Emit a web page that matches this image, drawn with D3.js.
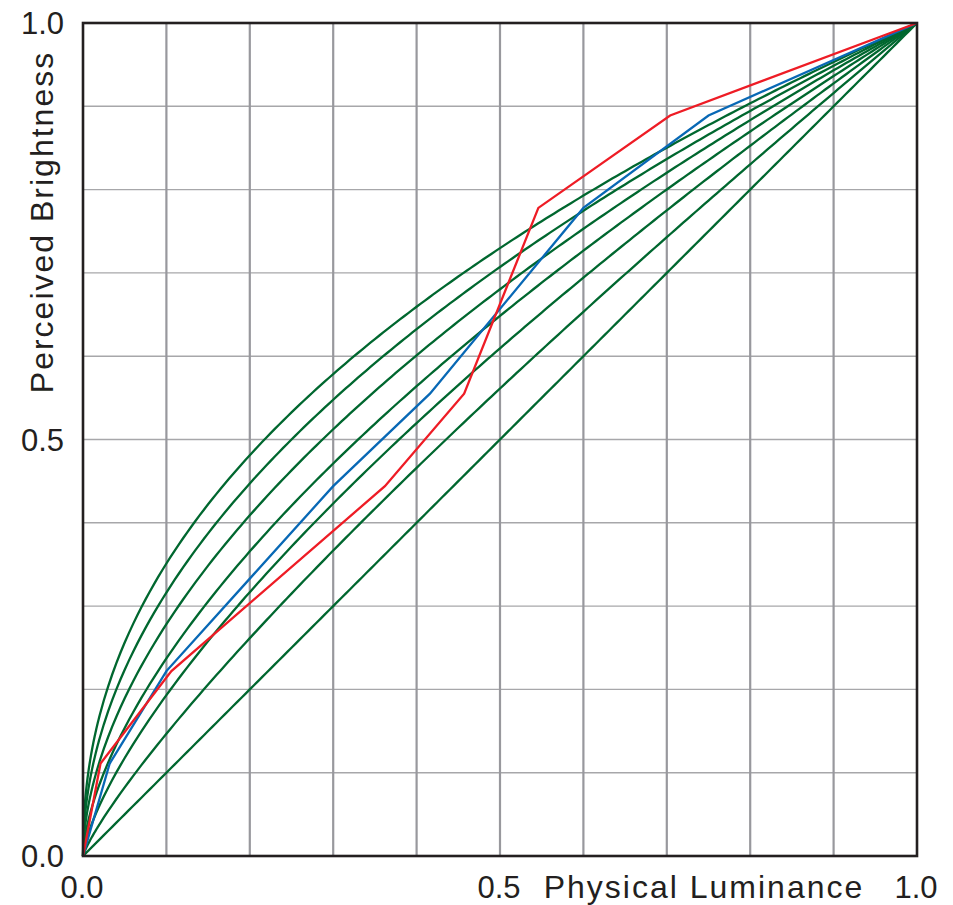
<!DOCTYPE html>
<html>
<head>
<meta charset="utf-8">
<script src="https://cdn.jsdelivr.net/npm/d3@7"></script>
<style>
    body { margin: 0; background: #fff; }
    text { font-family: "Liberation Sans", Arial, Helvetica, sans-serif; fill: #231f20; }
</style>
</head>
<body>
<div id="chart"></div>
<script>
// gamma values of the green reference curves (y = x^(1/gamma))
var gammas = [2.2, 2.0, 1.8, 1.6, 1.4, 1.2, 1.0];

var blueX = [0, 0.032, 0.1, 0.2, 0.3, 0.416, 0.6, 0.75, 1.0];
var blueY = [0, 0.111, 0.222, 0.333, 0.444, 0.555, 0.778, 0.889, 1.0];
var redX = [0, 0.021, 0.106, 0.362, 0.457, 0.546, 0.704, 1.0];
var redY = [0, 0.111, 0.222, 0.444, 0.555, 0.778, 0.889, 1.0];

// axis labels
var xTickLabels = ["0.0", "0.5", "1.0"];
var yTickLabels = ["0.0", "0.5", "1.0"];
var xTickValues = [0, 0.5, 1];
var yTickValues = [0, 0.5, 1];

var width = 953,
    height = 905,
    margin = {top: 23, right: 36, bottom: 49, left: 83};

var svg = d3.select("#chart")
    .append("svg")
    .attr("width", width)
    .attr("height", height);

var x = d3.scaleLinear()
    .domain([0, 1])
    .range([margin.left, width - margin.right]);

var y = d3.scaleLinear()
    .domain([0, 1])
    .range([height - margin.bottom, margin.top]);

var gridTicks = d3.range(1, 10).map(function (d) { return d / 10; });

// horizontal grid (thin, light)
svg.append("g")
    .selectAll("line")
    .data(gridTicks)
    .enter()
    .append("line")
    .attr("x1", x(0)).attr("x2", x(1))
    .attr("y1", function (d) { return y(d); })
    .attr("y2", function (d) { return y(d); })
    .attr("stroke", "#a7a7aa")
    .attr("stroke-width", 1.4);

// vertical grid (a bit heavier)
svg.append("g")
    .selectAll("line")
    .data(gridTicks)
    .enter()
    .append("line")
    .attr("y1", y(0)).attr("y2", y(1))
    .attr("x1", function (d) { return x(d); })
    .attr("x2", function (d) { return x(d); })
    .attr("stroke", "#98989d")
    .attr("stroke-width", 2.2);

var line = d3.line()
    .x(function (d) { return x(d[0]); })
    .y(function (d) { return y(d[1]); });

// green power curves
var xs = d3.range(0, 0.02, 0.0005).concat(d3.range(0.02, 1.0001, 0.005));
svg.append("g")
    .selectAll("path")
    .data(gammas)
    .enter()
    .append("path")
    .attr("d", function (g) {
        return line(xs.map(function (v) { return [v, Math.pow(v, 1 / g)]; }));
    })
    .attr("fill", "none")
    .attr("stroke", "#00672f")
    .attr("stroke-width", 2.3);

// measured curves
svg.append("path")
    .attr("d", line(d3.zip(blueX, blueY)))
    .attr("fill", "none")
    .attr("stroke", "#0868b5")
    .attr("stroke-width", 2.3);

svg.append("path")
    .attr("d", line(d3.zip(redX, redY)))
    .attr("fill", "none")
    .attr("stroke", "#ee1c25")
    .attr("stroke-width", 2.3);

// frame
svg.append("rect")
    .attr("x", x(0))
    .attr("y", y(1))
    .attr("width", x(1) - x(0))
    .attr("height", y(0) - y(1))
    .attr("fill", "none")
    .attr("stroke", "#231f20")
    .attr("stroke-width", 2.6);

// tick labels
svg.append("g")
    .selectAll("text")
    .data(yTickValues)
    .enter()
    .append("text")
    .attr("x", 64)
    .attr("y", function (d) { return y(d) + 11; })
    .attr("text-anchor", "end")
    .style("font-size", "31px")
    .text(function (d, i) { return yTickLabels[i]; });

svg.append("g")
    .selectAll("text")
    .data(xTickValues)
    .enter()
    .append("text")
    .attr("x", function (d) { return x(d) - 1; })
    .attr("y", 898)
    .attr("text-anchor", "middle")
    .style("font-size", "31px")
    .text(function (d, i) { return xTickLabels[i]; });

// axis titles
svg.append("text")
    .attr("x", 704)
    .attr("y", 898)
    .attr("text-anchor", "middle")
    .style("font-size", "32px")
    .style("letter-spacing", "2px")
    .text("Physical Luminance");

svg.append("text")
    .attr("transform", "translate(53,222) rotate(-90)")
    .attr("text-anchor", "middle")
    .style("font-size", "32px")
    .style("letter-spacing", "2px")
    .text("Perceived Brightness");
</script>
</body>
</html>
